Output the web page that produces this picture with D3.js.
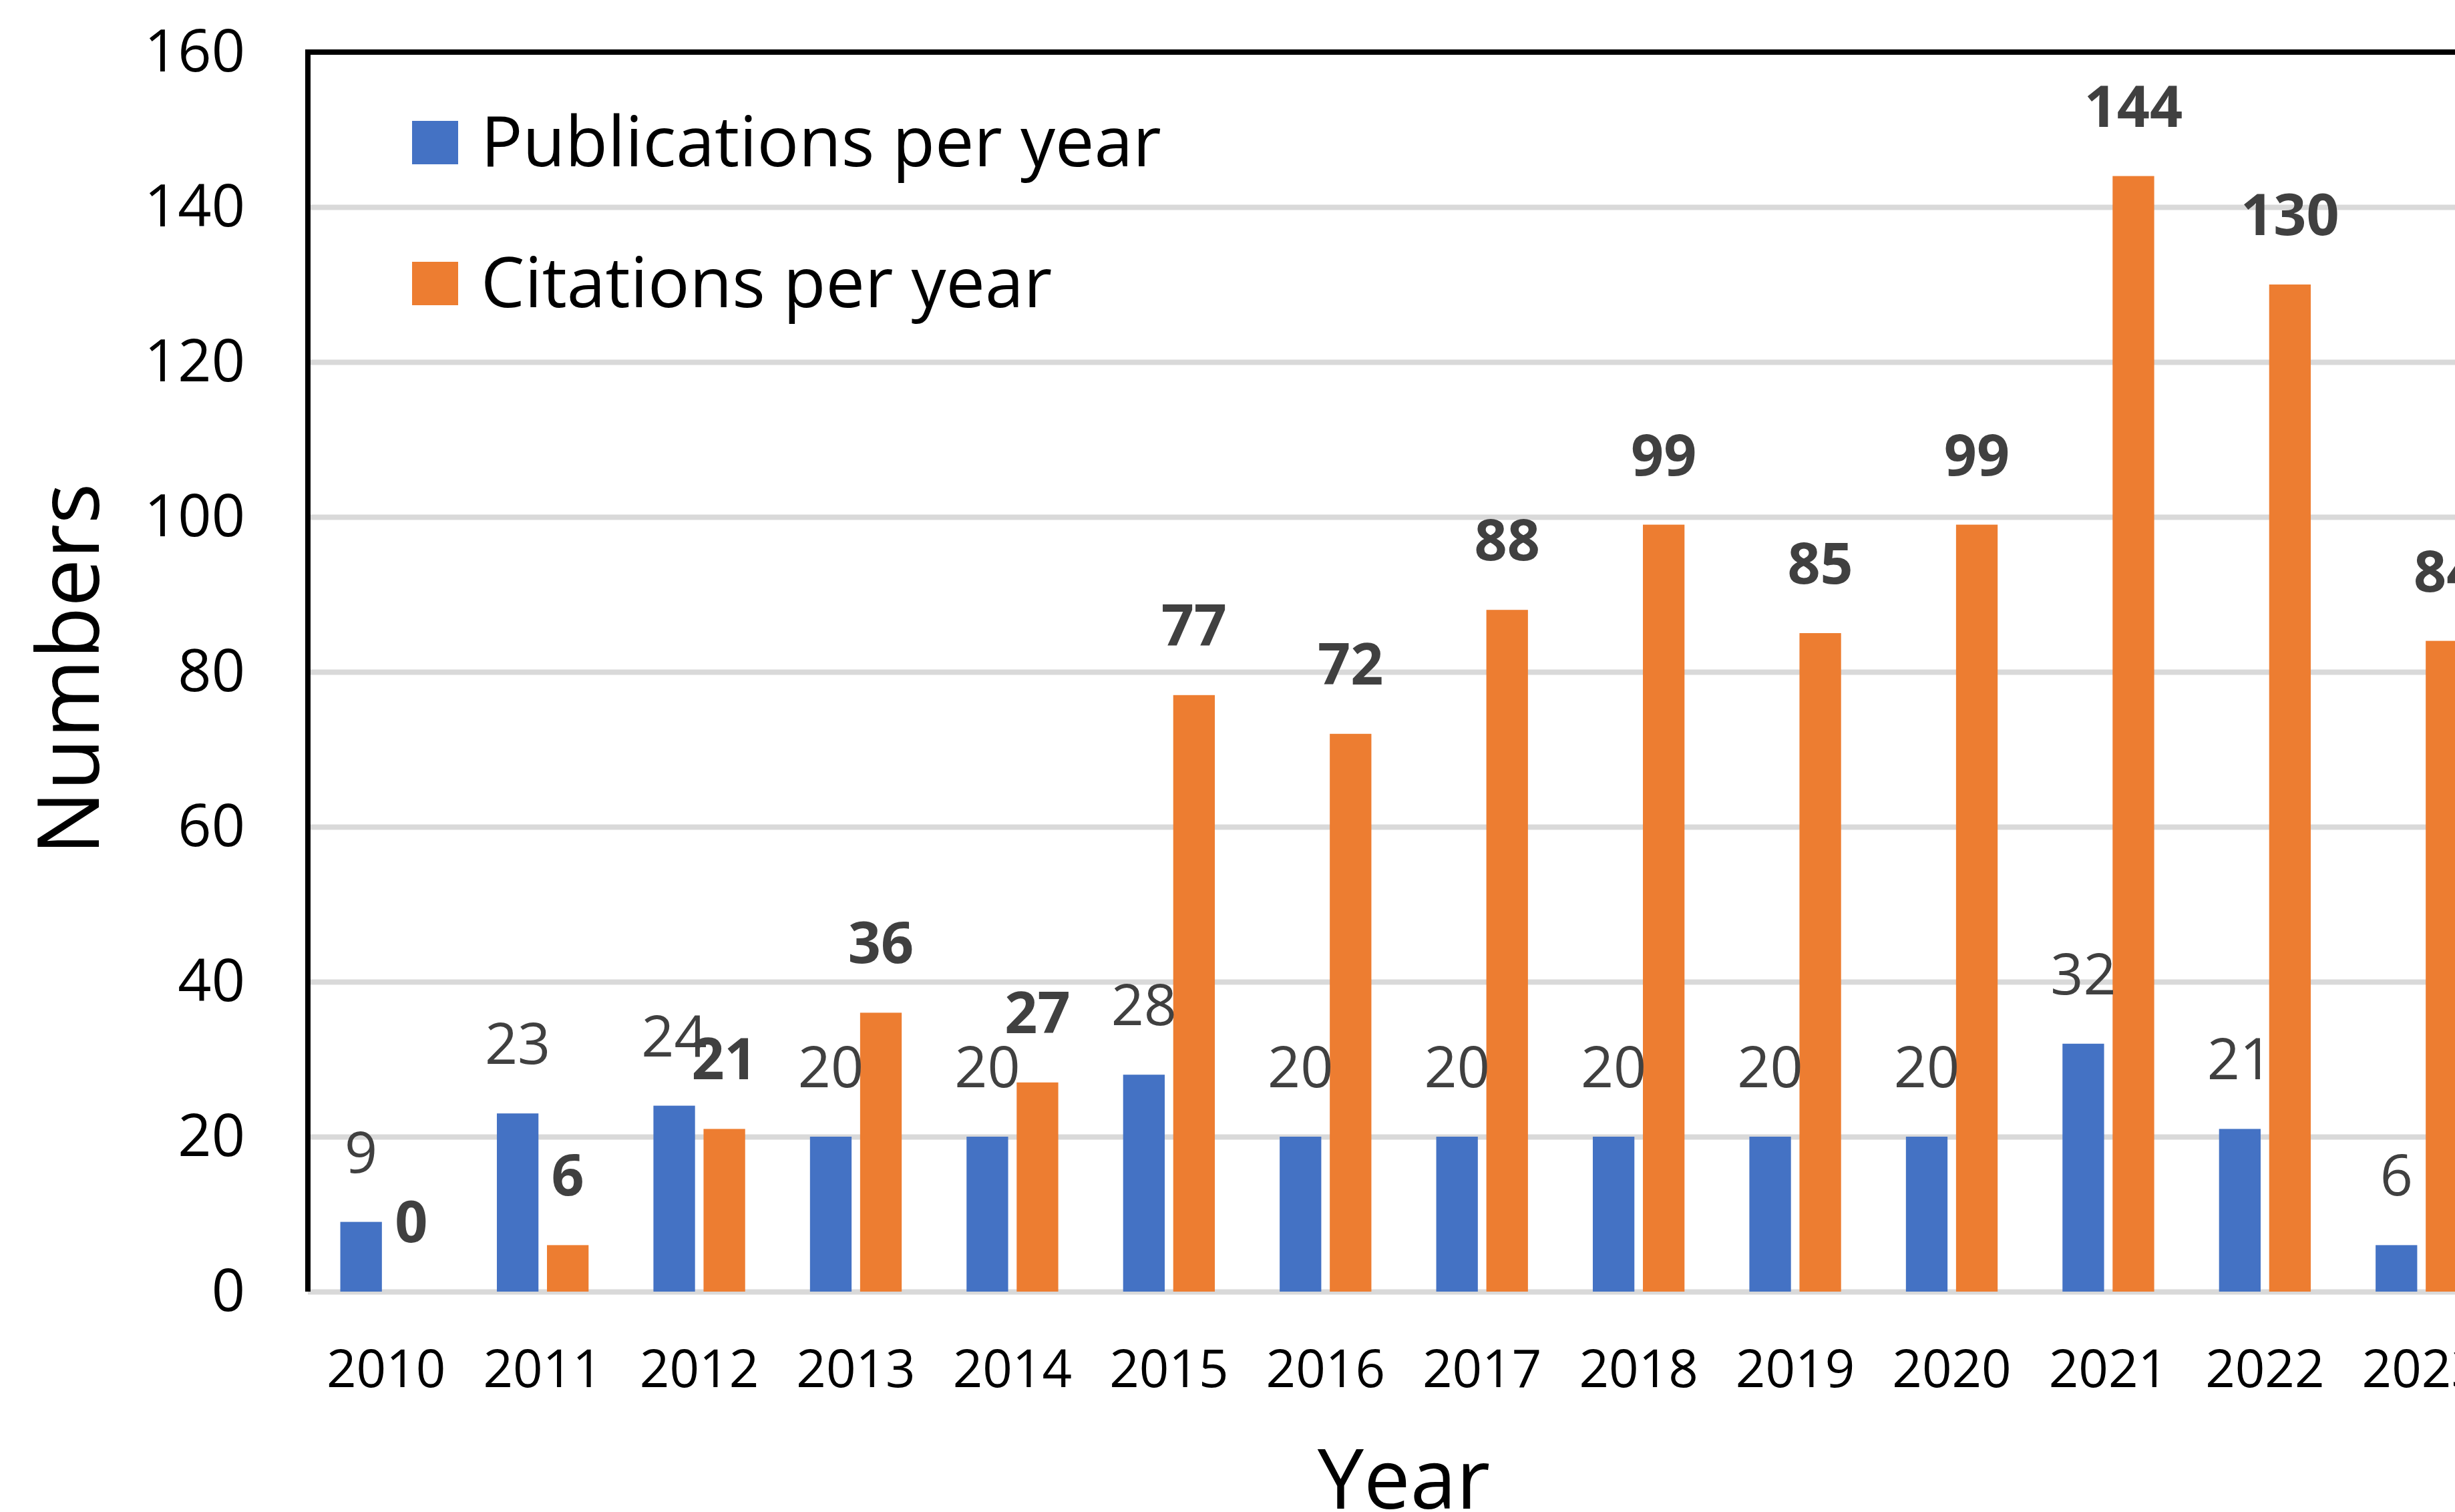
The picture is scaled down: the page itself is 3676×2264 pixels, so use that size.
<!DOCTYPE html>
<html>
<head>
<meta charset="utf-8">
<script src="https://cdnjs.cloudflare.com/ajax/libs/d3/7.8.5/d3.min.js"></script>
<style>
    html, body { margin: 0; padding: 0; background: #ffffff; }
    svg { display: block; font-family: "Segoe UI", "Open Sans", "Noto Sans", sans-serif; }
</style>
</head>
<body>
<div id="chart"></div>
<script>
// chart values
let years = ["2010", "2011", "2012", "2013", "2014", "2015", "2016", "2017", "2018", "2019", "2020", "2021", "2022", "2023"];
let publications = [9, 23, 24, 20, 20, 28, 20, 20, 20, 20, 20, 32, 21, 6];
let citations = [0, 6, 21, 36, 27, 77, 72, 88, 99, 85, 99, 144, 130, 84];
let seriesNames = ["Publications per year", "Citations per year"];
let seriesColors = ["#4472C4", "#ED7D31"];
let yTicks = [0, 20, 40, 60, 80, 100, 120, 140, 160];


class BarVis {

    constructor(parentElement) {
        this.parentElement = parentElement;
        this.initVis();
    }

    initVis() {
        let vis = this;

        vis.fullWidth = 3676;
        vis.fullHeight = 2264;

        // plot area runs past the right edge of the picture, like the original
        vis.margin = {top: 78, left: 461};
        vis.width = 3743 - vis.margin.left;
        vis.height = 1934 - vis.margin.top;

        vis.svg = d3.select("#" + vis.parentElement).append("svg")
            .attr("width", vis.fullWidth)
            .attr("height", vis.fullHeight);

        vis.g = vis.svg.append("g")
            .attr("transform", `translate(${vis.margin.left}, ${vis.margin.top})`);

        vis.x0 = d3.scaleBand()
            .domain(years)
            .range([0, vis.width]);

        vis.x1 = d3.scaleBand()
            .domain([0, 1])
            .range([0, vis.x0.bandwidth()])
            .paddingInner(0.17)
            .paddingOuter(0.647);

        vis.y = d3.scaleLinear()
            .domain([0, 160])
            .range([vis.height, 0]);

        vis.wrangleData();
    }

    wrangleData() {
        let vis = this;

        vis.displayData = years.map((yr, i) => {
            return {year: yr, values: [publications[i], citations[i]]};
        });

        vis.updateVis();
    }

    updateVis() {
        let vis = this;

        // gridlines + y tick labels
        let yAxis = d3.axisLeft(vis.y)
            .tickValues(yTicks)
            .tickSize(-vis.width)
            .tickPadding(94);

        vis.g.append("g")
            .attr("class", "y-axis")
            .call(yAxis)
            .attr("font-family", null)
            .attr("font-size", null)
            .call(g => g.select(".domain").remove())
            .call(g => g.selectAll("line")
                .attr("stroke", "#D9D9D9")
                .attr("stroke-width", 8))
            .call(g => g.selectAll("text")
                .attr("fill", "#000000")
                .attr("font-size", 88));

        // x tick labels
        let xAxis = d3.axisBottom(vis.x0)
            .tickSize(0)
            .tickPadding(88);

        vis.g.append("g")
            .attr("class", "x-axis")
            .attr("transform", `translate(0, ${vis.height})`)
            .call(xAxis)
            .attr("font-family", null)
            .attr("font-size", null)
            .call(g => g.select(".domain").remove())
            .call(g => g.selectAll("text")
                .attr("fill", "#000000")
                .attr("font-size", 78));

        // bars
        let groups = vis.g.selectAll(".year-group")
            .data(vis.displayData)
            .enter()
            .append("g")
            .attr("class", "year-group")
            .attr("transform", d => `translate(${vis.x0(d.year)}, 0)`);

        groups.selectAll("rect")
            .data(d => d.values)
            .enter()
            .append("rect")
            .attr("x", (d, i) => vis.x1(i))
            .attr("y", d => vis.y(d))
            .attr("width", vis.x1.bandwidth())
            .attr("height", d => vis.height - vis.y(d))
            .attr("fill", (d, i) => seriesColors[i]);

        // value labels
        groups.selectAll(".value-label")
            .data(d => d.values)
            .enter()
            .append("text")
            .attr("class", "value-label")
            .attr("x", (d, i) => vis.x1(i) + vis.x1.bandwidth() / 2)
            .attr("y", d => vis.y(d) - 74)
            .attr("text-anchor", "middle")
            .attr("font-size", 86)
            .attr("font-weight", (d, i) => i === 1 ? "bold" : "normal")
            .attr("fill", "#404040")
            .text(d => d);

        // plot border (left, top, right)
        vis.g.append("path")
            .attr("d", `M0,${vis.height} V0 H${vis.width} V${vis.height}`)
            .attr("fill", "none")
            .attr("stroke", "#000000")
            .attr("stroke-width", 8);

        // legend
        let legend = vis.svg.append("g")
            .attr("class", "legend");

        seriesNames.forEach((name, i) => {
            legend.append("rect")
                .attr("x", 617)
                .attr("y", 181 + i * 211)
                .attr("width", 69)
                .attr("height", 65)
                .attr("fill", seriesColors[i]);

            legend.append("text")
                .attr("x", 720)
                .attr("y", 249 + i * 211)
                .attr("font-size", 104)
                .attr("fill", "#000000")
                .text(name);
        });

        // axis titles
        vis.svg.append("text")
            .attr("transform", `translate(148, 1002) rotate(-90)`)
            .attr("text-anchor", "middle")
            .attr("font-size", 128)
            .attr("fill", "#000000")
            .text("Numbers");

        vis.svg.append("text")
            .attr("x", vis.margin.left + vis.width / 2)
            .attr("y", 2259)
            .attr("text-anchor", "middle")
            .attr("font-size", 124)
            .attr("fill", "#000000")
            .text("Year");
    }
}

new BarVis("chart");
</script>
</body>
</html>
